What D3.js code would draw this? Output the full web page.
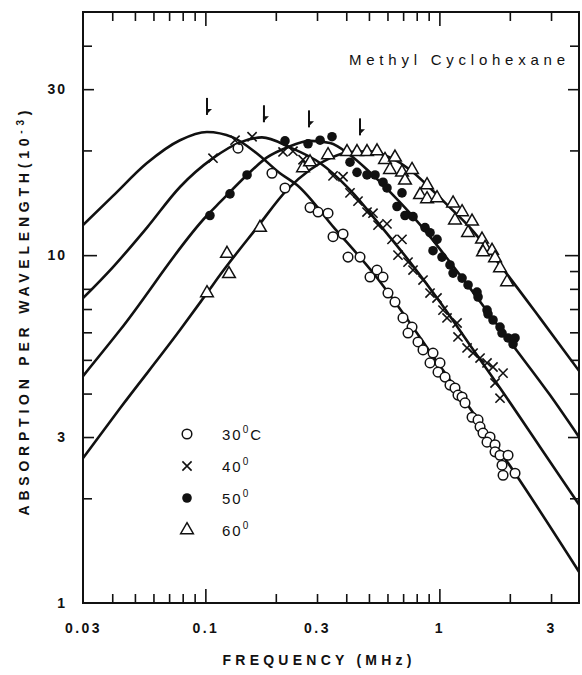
<!DOCTYPE html>
<html>
<head>
<meta charset="utf-8">
<script src="https://cdn.jsdelivr.net/npm/d3@7"></script>
<style>
  body { margin: 0; background: #fff; }
  svg text { font-family: "Liberation Sans", Arial, Helvetica, sans-serif; fill: #111; }
</style>
</head>
<body>
<svg id="chart" width="582" height="675"></svg>
<script>
//
// Data
//

// fitted curves, frequency in MHz / absorption per wavelength (10^-3)
const fit30Freq = [0.03, 0.0403, 0.0563, 0.0779, 0.1016, 0.1312, 0.1662, 0.2084, 0.2464, 0.3581, 0.5204, 1.006, 2.105, 3.95]
const fit30Val  = [12.2, 14.8, 18.4, 21.4, 22.6, 21.8, 19.6, 17.2, 15.9, 11.9, 8.9, 4.8, 2.36, 1.23]

const fit40Freq = [0.03, 0.0403, 0.0563, 0.0779, 0.1078, 0.1406, 0.1746, 0.23, 0.3091, 0.415, 0.5575, 0.749, 1.006, 1.352, 1.816, 2.692, 3.95]
const fit40Val  = [7.52, 9.24, 12.0, 15.7, 19.0, 21.1, 21.8, 20.4, 18.4, 15.4, 12.2, 9.55, 7.33, 5.51, 4.15, 2.81, 1.92]

const fit50Freq = [0.03, 0.0432, 0.1016, 0.1155, 0.1507, 0.1834, 0.2233, 0.2801, 0.341, 0.415, 0.5053, 0.6151, 0.749, 0.912, 1.11, 1.352, 1.646, 2.105, 2.97, 3.95]
const fit50Val  = [4.49, 6.09, 13.0, 14.2, 17.0, 19.1, 20.4, 21.3, 21.0, 19.4, 17.3, 15.2, 13.2, 11.3, 9.55, 8.04, 6.72, 5.40, 3.96, 3.0]

const fit60Freq = [0.03, 0.0432, 0.0779, 0.1016, 0.1189, 0.1662, 0.2233, 0.2801, 0.341, 0.415, 0.5053, 0.6151, 0.749, 0.912, 1.11, 1.352, 1.646, 2.004, 2.692, 3.95]
const fit60Val  = [2.61, 3.63, 6.09, 7.78, 9.0, 12.0, 15.4, 17.6, 19.0, 19.8, 19.9, 19.1, 17.6, 15.6, 13.7, 12.0, 10.2, 8.59, 6.59, 4.65]

// measured points
const pts30Freq = [0.1379, 0.1926, 0.2189, 0.2801, 0.3031, 0.3343, 0.3512, 0.3875, 0.407, 0.458, 0.5053, 0.5414, 0.5742, 0.6031, 0.646, 0.699, 0.764, 0.7345, 0.8104, 0.8513, 0.9393, 0.912, 1.006, 0.9867, 1.057, 1.11, 1.166, 1.201, 1.25, 1.287, 1.379, 1.463, 1.492, 1.536, 1.646, 1.598, 1.729, 1.729, 1.816, 1.965, 1.852, 1.871, 2.105]
const pts30Val  = [20.3, 17.2, 15.6, 13.7, 13.3, 13.2, 11.3, 11.5, 9.87, 9.87, 8.65, 9.06, 8.65, 7.78, 7.33, 6.60, 6.21, 5.97, 5.63, 5.34, 5.23, 4.90, 4.90, 4.61, 4.46, 4.23, 4.15, 3.96, 3.91, 3.76, 3.42, 3.36, 3.21, 3.08, 3.00, 2.90, 2.85, 2.72, 2.66, 2.66, 2.49, 2.33, 2.36]

const pts40Freq = [0.1078, 0.1339, 0.1583, 0.2147, 0.2368, 0.2614, 0.3512, 0.3875, 0.415, 0.449, 0.4906, 0.5204, 0.5467, 0.5971, 0.6273, 0.6921, 0.6655, 0.7345, 0.7716, 0.8513, 0.912, 0.977, 1.036, 1.078, 1.19, 1.201, 1.313, 1.393, 1.492, 1.598, 1.695, 1.871, 1.729, 1.816]
const pts40Val  = [19.0, 21.4, 21.9, 19.8, 19.9, 18.8, 16.9, 16.8, 15.1, 14.3, 13.3, 13.2, 12.2, 12.3, 11.1, 11.1, 10.0, 9.55, 9.06, 8.48, 7.78, 7.53, 6.95, 6.60, 6.38, 5.82, 5.41, 5.23, 5.06, 4.90, 4.77, 4.58, 4.29, 3.88]

const pts50Freq = [0.1046, 0.1274, 0.1507, 0.2189, 0.2746, 0.3091, 0.3477, 0.415, 0.4446, 0.4906, 0.5309, 0.5742, 0.5971, 0.6921, 0.659, 0.7129, 0.7716, 0.8682, 0.912, 0.977, 0.9393, 1.026, 1.11, 1.144, 1.25, 1.326, 1.448, 1.463, 1.598, 1.614, 1.695, 1.816, 1.852, 1.965, 2.105, 2.064]
const pts50Val  = [13.0, 15.0, 17.0, 21.3, 20.9, 21.4, 21.9, 18.5, 17.3, 17.0, 17.0, 16.2, 15.6, 15.1, 13.8, 13.0, 12.9, 12.0, 11.6, 11.1, 10.3, 9.87, 9.37, 8.88, 8.59, 8.21, 7.83, 7.58, 6.95, 6.77, 6.51, 6.21, 5.97, 5.78, 5.78, 5.55]

const pts60Freq = [0.1016, 0.1237, 0.1262, 0.1712, 0.2614, 0.2801, 0.3343, 0.403, 0.4446, 0.4906, 0.5414, 0.5856, 0.646, 0.6151, 0.6921, 0.764, 0.7129, 0.8856, 0.8266, 0.8856, 0.977, 1.144, 1.25, 1.166, 1.379, 1.326, 1.521, 1.567, 1.679, 1.536, 1.729, 1.816, 1.946]
const pts60Val  = [7.78, 10.1, 8.83, 12.0, 17.8, 18.5, 19.4, 19.8, 19.8, 19.8, 19.9, 18.8, 19.1, 17.6, 17.3, 17.6, 16.4, 15.9, 14.9, 14.5, 14.6, 14.1, 13.3, 12.6, 12.5, 11.6, 11.1, 10.5, 10.3, 10.2, 9.81, 9.18, 8.37]

// relaxation frequency markers (arrows)
const arrowFreq = [0.1016, 0.178, 0.2773, 0.458]
const arrowVal  = [25.3, 24.1, 23.3, 22.1]

// legend
const legendLabels = ["30", "40", "50", "60"]
const legendUnits  = ["C", "", "", ""]

// ticks
const xMinorTicks = [0.04, 0.05, 0.06, 0.07, 0.08, 0.09, 0.2, 0.3, 0.4, 0.5, 0.6, 0.7, 0.8, 0.9, 2, 3]
const xMajorTicks = [0.1, 1]
const xLabelVals  = [0.03, 0.1, 0.3, 1, 3]
const xLabels     = ["0.03", "0.1", "0.3", "1", "3"]
const yMinorTicks = [2, 4, 5, 6, 7, 8, 20, 40]
const yMidTicks   = [3, 30]
const yMajorTicks = [10]
const yLabelVals  = [1, 3, 10, 30]
const yLabels     = ["1", "3", "10", "30"]

//
// Setup
//

const plotLeft = 83, plotRight = 579, plotTop = 12, plotBottom = 603
const svg = d3.select("#chart")

const x = d3.scaleLog().domain([0.03, 3.95]).range([plotLeft, plotRight])
const y = d3.scaleLog().domain([1, 50]).range([plotBottom, plotTop])

svg.append("clipPath").attr("id", "plotclip")
  .append("rect")
  .attr("x", plotLeft).attr("y", plotTop)
  .attr("width", plotRight - plotLeft).attr("height", plotBottom - plotTop)

function zip(a, b) {
  return a.map(function(v, i) { return [v, b[i]] })
}

const series = [
  {fit: zip(fit30Freq, fit30Val), pts: zip(pts30Freq, pts30Val), sym: "circle"},
  {fit: zip(fit40Freq, fit40Val), pts: zip(pts40Freq, pts40Val), sym: "cross"},
  {fit: zip(fit50Freq, fit50Val), pts: zip(pts50Freq, pts50Val), sym: "dot"},
  {fit: zip(fit60Freq, fit60Val), pts: zip(pts60Freq, pts60Val), sym: "triangle"}
]

//
// Axes (ticks point inward on all four sides)
//

function tickAxis(axis, values, len, tx, ty) {
  const g = svg.append("g")
    .attr("transform", "translate(" + tx + "," + ty + ")")
    .call(axis.tickValues(values).tickSize(-len).tickFormat(""))
  g.select(".domain").remove()
  g.selectAll(".tick line").attr("stroke", "#111").attr("stroke-width", 1.6)
}

tickAxis(d3.axisBottom(x), xMinorTicks, 9, 0, plotBottom)
tickAxis(d3.axisBottom(x), xMajorTicks, 14, 0, plotBottom)
tickAxis(d3.axisTop(x), xMinorTicks, 9, 0, plotTop)
tickAxis(d3.axisTop(x), xMajorTicks, 14, 0, plotTop)
tickAxis(d3.axisLeft(y), yMinorTicks, 9, plotLeft, 0)
tickAxis(d3.axisLeft(y), yMidTicks, 11, plotLeft, 0)
tickAxis(d3.axisLeft(y), yMajorTicks, 14, plotLeft, 0)
tickAxis(d3.axisRight(y), yMinorTicks.concat([9]), 9, plotRight, 0)
tickAxis(d3.axisRight(y), yMidTicks, 11, plotRight, 0)
tickAxis(d3.axisRight(y), yMajorTicks, 14, plotRight, 0)

// frame
svg.append("rect")
  .attr("x", plotLeft).attr("y", plotTop)
  .attr("width", plotRight - plotLeft).attr("height", plotBottom - plotTop)
  .attr("fill", "none").attr("stroke", "#111").attr("stroke-width", 2)

// tick labels
const xLab = svg.append("g")
  .attr("transform", "translate(0," + plotBottom + ")")
  .call(d3.axisBottom(x).tickValues(xLabelVals).tickSize(0).tickPadding(20)
    .tickFormat(function(d, i) { return xLabels[i] }))
xLab.select(".domain").remove()
xLab.selectAll("text")
  .attr("font-size", 14).attr("font-weight", "bold")
  .attr("font-family", "Liberation Sans, Arial, sans-serif")
  .style("letter-spacing", "2.5px")

const yLab = svg.append("g")
  .attr("transform", "translate(" + plotLeft + ",0)")
  .call(d3.axisLeft(y).tickValues(yLabelVals).tickSize(0).tickPadding(16)
    .tickFormat(function(d, i) { return yLabels[i] }))
yLab.select(".domain").remove()
yLab.selectAll("text")
  .attr("font-size", 14).attr("font-weight", "bold")
  .attr("font-family", "Liberation Sans, Arial, sans-serif")
  .style("letter-spacing", "2px")

// axis titles
svg.append("text")
  .attr("x", 317).attr("y", 665)
  .attr("text-anchor", "middle")
  .attr("font-size", 14).attr("font-weight", "bold")
  .attr("textLength", 189).attr("lengthAdjust", "spacing")
  .text("FREQUENCY (MHz)")

const yTitle = svg.append("text")
  .attr("transform", "translate(29,313) rotate(-90)")
  .attr("text-anchor", "middle")
  .attr("font-size", 14).attr("font-weight", "bold")
  .attr("textLength", 405).attr("lengthAdjust", "spacing")
yTitle.append("tspan").text("ABSORPTION PER WAVELENGTH(10")
yTitle.append("tspan").attr("dy", -5).attr("font-size", 10).text("-3")
yTitle.append("tspan").attr("dy", 5).text(")")

// plot title
svg.append("text")
  .attr("x", 349).attr("y", 65)
  .attr("font-size", 15)
  .attr("textLength", 216).attr("lengthAdjust", "spacing")
  .text("Methyl Cyclohexane")

//
// Curves and points
//

const line = d3.line()
  .x(function(d) { return x(d[0]) })
  .y(function(d) { return y(d[1]) })
  .curve(d3.curveMonotoneX)

const plot = svg.append("g").attr("clip-path", "url(#plotclip)")

series.forEach(function(s) {
  plot.append("path")
    .datum(s.fit)
    .attr("d", line)
    .attr("fill", "none")
    .attr("stroke", "#111")
    .attr("stroke-width", 2.6)
})

function drawSymbol(g, sym) {
  if (sym === "circle") {
    g.append("circle").attr("r", 4.8).attr("fill", "#fff").attr("stroke", "#111").attr("stroke-width", 1.5)
  } else if (sym === "dot") {
    g.append("circle").attr("r", 4.8).attr("fill", "#111")
  } else if (sym === "cross") {
    g.append("path").attr("d", "M-4.6,-4.6L4.6,4.6M-4.6,4.6L4.6,-4.6")
      .attr("stroke", "#111").attr("stroke-width", 1.6).attr("fill", "none")
  } else {
    g.append("path").attr("d", d3.symbol(d3.symbolTriangle, 70)())
      .attr("fill", "#fff").attr("stroke", "#111").attr("stroke-width", 1.5)
  }
}

series.forEach(function(s) {
  plot.selectAll(null)
    .data(s.pts)
    .enter()
    .append("g")
    .attr("transform", function(d) { return "translate(" + x(d[0]) + "," + y(d[1]) + ")" })
    .each(function() { drawSymbol(d3.select(this), s.sym) })
})

// arrows marking the relaxation frequencies
arrowFreq.forEach(function(f, i) {
  const ax = x(f), ay = y(arrowVal[i])
  svg.append("path")
    .attr("d", "M" + ax + "," + (ay - 17) + "L" + ax + "," + ay)
    .attr("stroke", "#111").attr("stroke-width", 2)
  svg.append("path")
    .attr("d", "M" + (ax - 1) + "," + ay + "L" + (ax + 5) + "," + (ay - 6) + "L" + (ax - 1) + "," + (ay - 6) + "Z")
    .attr("fill", "#111")
})

//
// Legend
//

const legendY = [434, 466, 498, 530]
series.forEach(function(s, i) {
  const g = svg.append("g").attr("transform", "translate(187," + legendY[i] + ")")
  drawSymbol(g, s.sym)
  const t = svg.append("text")
    .attr("x", 222).attr("y", legendY[i] + 6)
    .attr("font-size", 15)
    .style("letter-spacing", "2px")
  t.append("tspan").text(legendLabels[i])
  t.append("tspan").attr("dy", -7).attr("font-size", 10).text("0")
  if (legendUnits[i]) t.append("tspan").attr("dy", 7).text(legendUnits[i])
})
</script>
</body>
</html>
